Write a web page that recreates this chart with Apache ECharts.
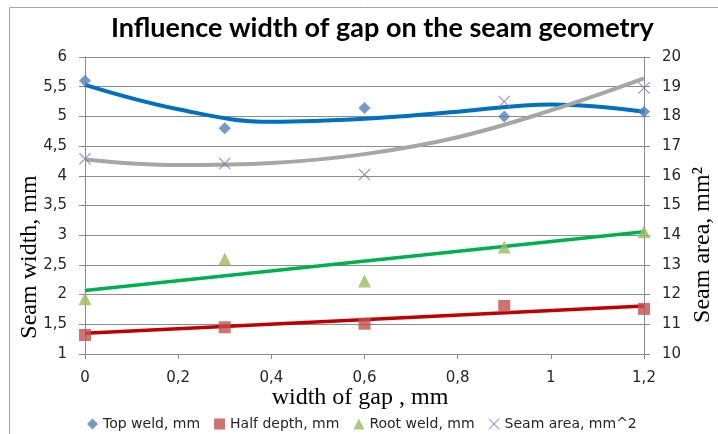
<!DOCTYPE html>
<html>
<head>
<meta charset="utf-8">
<title>Influence width of gap on the seam geometry</title>
<script src="https://cdn.jsdelivr.net/npm/echarts@6/dist/echarts.min.js"></script>
<style>
  html, body { margin: 0; padding: 0; background: #fff; }
  #chart { width: 718px; height: 434px; }
</style>
</head>
<body>
<div id="chart"></div>
<script>
// measured points (x = width of gap, mm)
const gapWidth  = [0, 0.3, 0.6, 0.9, 1.2];
const topWeld   = [5.6, 4.8, 5.14, 5.0, 5.08];
const halfDepth = [1.32, 1.45, 1.51, 1.81, 1.76];
const rootWeld  = [1.93, 2.6, 2.23, 2.8, 3.06];
const seamArea  = [16.57, 16.41, 16.04, 18.5, 18.96];

// trendlines
const curveX        = [0, 0.2, 0.4, 0.6, 0.8, 1.0, 1.2];
const topWeldTrend  = [5.53, 5.12, 4.91, 4.96, 5.08, 5.2, 5.08];
const seamAreaTrend = [16.55, 16.36, 16.43, 16.73, 17.3, 18.2, 19.28];
const straightX      = [0, 1.2];
const halfDepthTrend = [1.35, 1.81];
const rootWeldTrend  = [2.07, 3.06];

// axis ranges [min, max, step]
const xRange     = [0, 1.2, 0.2];
const widthRange = [1, 6, 0.5];
const areaRange  = [10, 20, 1];

const seriesNames = ['Top weld, mm', 'Half depth, mm', 'Root weld, mm', 'Seam area, mm^2'];

function pairs(xs, ys) {
  return xs.map((x, i) => [x, ys[i]]);
}
function comma(v) {
  return String(+v.toFixed(1)).replace('.', ',');
}

const crossPath = 'path://M0 0.8L0.8 0L6 5.2L11.2 0L12 0.8L6.8 6L12 11.2L11.2 12L6 6.8L0.8 12L0 11.2L5.2 6Z';
const tickFont = { fontFamily: 'DejaVu Sans', fontSize: 15, color: '#262626' };
const gridColor = '#8c8c8c';

const chart = echarts.init(document.getElementById('chart'), null, { renderer: 'canvas' });

const option = {
  animation: false,
  backgroundColor: '#fff',
  title: {
    text: 'Influence width of gap on the seam geometry',
    left: 106,
    top: 10,
    textStyle: { fontFamily: 'Lato', fontWeight: 'bold', fontSize: 27, color: '#000' }
  },
  grid: { left: 85, right: 74, top: 57, bottom: 80 },
  legend: {
    data: seriesNames,
    left: 82,
    top: 412,
    itemWidth: 11,
    itemHeight: 11,
    itemGap: 14,
    textStyle: { fontFamily: 'DejaVu Sans', fontSize: 14, color: '#262626' }
  },
  xAxis: {
    type: 'value',
    min: xRange[0], max: xRange[1], interval: xRange[2],
    axisLine: { show: true, onZero: false, lineStyle: { color: gridColor } },
    axisTick: { show: true, length: 5, lineStyle: { color: gridColor } },
    axisLabel: Object.assign({ margin: 17, formatter: comma }, tickFont),
    splitLine: { show: false }
  },
  yAxis: [
    {
      type: 'value',
      min: widthRange[0], max: widthRange[1], interval: widthRange[2],
      axisLine: { show: true, lineStyle: { color: gridColor } },
      axisTick: { show: true, length: 6, lineStyle: { color: gridColor } },
      axisLabel: Object.assign({ margin: 18, formatter: comma }, tickFont),
      splitLine: { show: true, lineStyle: { color: gridColor, width: 1 } }
    },
    {
      type: 'value',
      position: 'right',
      min: areaRange[0], max: areaRange[1], interval: areaRange[2],
      axisLine: { show: true, lineStyle: { color: gridColor } },
      axisTick: { show: true, length: 6, lineStyle: { color: gridColor } },
      axisLabel: Object.assign({ margin: 18 }, tickFont),
      splitLine: { show: false }
    }
  ],
  graphic: [
    {
      type: 'rect',
      shape: { x: 9.5, y: 7.5, width: 900, height: 600 },
      style: { fill: 'none', stroke: '#a6a6a6', lineWidth: 1 },
      z: -10
    },
    {
      type: 'text', x: 30, y: 257, rotation: Math.PI / 2,
      style: { text: 'Seam width, mm', font: '24px "Liberation Serif"', fill: '#000', align: 'center', verticalAlign: 'middle' }
    },
    {
      type: 'text', x: 703, y: 245, rotation: Math.PI / 2,
      style: { text: 'Seam area, mm²', font: '24px "Liberation Serif"', fill: '#000', align: 'center', verticalAlign: 'middle' }
    },
    {
      type: 'text', x: 360, y: 398,
      style: { text: 'width of gap , mm', font: '24px "Liberation Serif"', fill: '#000', align: 'center', verticalAlign: 'middle' }
    }
  ],
  series: [
    // trendlines first, markers on top
    {
      name: 'trend top', type: 'line', smooth: 0.4, showSymbol: false, z: 2,
      lineStyle: { color: '#0070c0', width: 4 },
      data: pairs(curveX, topWeldTrend)
    },
    {
      name: 'trend area', type: 'line', smooth: 0.4, showSymbol: false, z: 2, yAxisIndex: 1,
      lineStyle: { color: '#a6a6a6', width: 4 },
      data: pairs(curveX, seamAreaTrend)
    },
    {
      name: 'trend root', type: 'line', showSymbol: false, z: 2,
      lineStyle: { color: '#00b050', width: 3.5 },
      data: pairs(straightX, rootWeldTrend)
    },
    {
      name: 'trend half', type: 'line', showSymbol: false, z: 2,
      lineStyle: { color: '#c00000', width: 3.5 },
      data: pairs(straightX, halfDepthTrend)
    },
    {
      name: seriesNames[0], type: 'scatter', symbol: 'diamond', symbolSize: 12, z: 3,
      itemStyle: { color: '#4f81bd' },
      data: pairs(gapWidth, topWeld)
    },
    {
      name: seriesNames[1], type: 'scatter', symbol: 'rect', symbolSize: 12, z: 3,
      itemStyle: { color: '#c0504d' },
      data: pairs(gapWidth, halfDepth)
    },
    {
      name: seriesNames[2], type: 'scatter', symbol: 'triangle', symbolSize: 13, z: 3,
      itemStyle: { color: '#9bbb59' },
      data: pairs(gapWidth, rootWeld)
    },
    {
      name: seriesNames[3], type: 'scatter', symbol: crossPath, symbolSize: 12, z: 3, yAxisIndex: 1,
      itemStyle: { color: '#8a74b0' },
      data: pairs(gapWidth, seamArea)
    }
  ]
};

chart.setOption(option);
</script>
</body>
</html>
